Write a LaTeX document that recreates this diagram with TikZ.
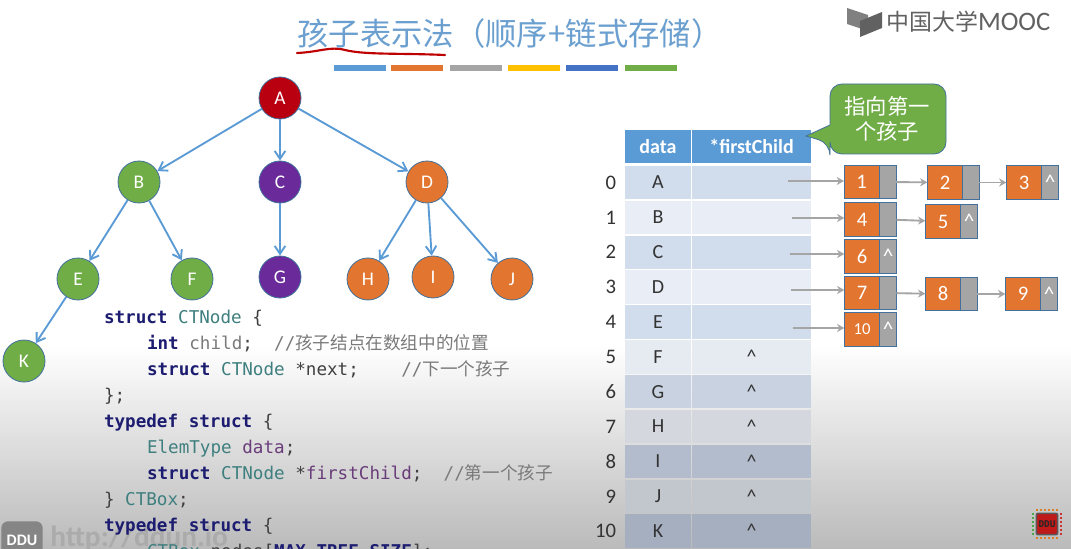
\documentclass[tikz,border=0pt]{standalone}
\usepackage{fontspec}
\setmainfont{Carlito}
\setmonofont{DejaVu Sans Mono}
\newfontfamily\cjk{Noto Sans CJK SC}
\usetikzlibrary{chains,positioning,arrows.meta}
\definecolor{titleBlue}{HTML}{6A9FCF}
\definecolor{lineBlue}{HTML}{5B9BD5}
\definecolor{edgeBlue}{HTML}{41719C}
\definecolor{redFill}{HTML}{B80010}
\definecolor{greenFill}{HTML}{70AD47}
\definecolor{purpleFill}{HTML}{6A2A9A}
\definecolor{orangeFill}{HTML}{E2752F}
\definecolor{grayFill}{HTML}{A5A5A5}
\definecolor{yellowFill}{HTML}{FFC000}
\definecolor{blueFill}{HTML}{4472C4}
\definecolor{kwColor}{HTML}{1C1C70}
\definecolor{tyColor}{HTML}{3F7F7F}
\definecolor{vrColor}{HTML}{6A3D7A}
\definecolor{cmColor}{HTML}{7A7A7A}
\definecolor{rowA}{HTML}{D1DCEC}
\definecolor{rowB}{HTML}{E9EEF6}
\definecolor{rowF}{HTML}{E6EBF2}
\definecolor{rowG}{HTML}{C8D2E1}
\definecolor{rowH}{HTML}{D4D7DD}
\definecolor{rowI}{HTML}{B2BCCC}
\definecolor{rowJ}{HTML}{C2C6CD}
\definecolor{rowK}{HTML}{A5AFC0}
\newcommand{\kw}[1]{\textcolor{kwColor}{\textbf{#1}}}
\newcommand{\ty}[1]{\textcolor{tyColor}{#1}}
\newcommand{\vr}[1]{\textcolor{vrColor}{#1}}
\newcommand{\cm}[1]{\textcolor{cmColor}{//{\cjk #1}}}
\begin{document}
\begin{tikzpicture}[
	x=0.75pt, y=-0.75pt,
	node distance = 1.05pt,
	start chain = going right,
	treenode/.style={circle, draw=edgeBlue, line width=0.6pt, minimum size=31.5pt, inner sep=0pt,
		text=white, font=\fontsize{14.5}{16}\selectfont},
	treeedge/.style={draw=lineBlue, line width=1.4pt, -{Straight Barb[length=6pt, width=8pt]}},
	head/.style={fill=lineBlue, text=white, minimum height=25pt, outer sep=0pt, inner sep=0pt,
		font=\fontsize{15}{17}\selectfont\bfseries},
	datacell/.style={minimum width=49.5pt, minimum height=25.1pt, outer sep=0pt, inner sep=0pt,
		text=black!80, font=\fontsize{15}{17}\selectfont},
	ptrcell/.style={minimum width=89.3pt, minimum height=25.1pt, outer sep=0pt, inner sep=0pt,
		text=black!80, font=\fontsize{15}{17}\selectfont},
	idx/.style={inner sep=0pt, outer sep=0pt, text=black!80, font=\fontsize{15.5}{17}\selectfont},
	key/.style={anchor=west, on chain, fill=orangeFill, draw=edgeBlue, line width=0.6pt, minimum width=26.5pt,
		minimum height=25pt, outer sep=0pt, inner sep=0pt, text=white, font=\fontsize{15.5}{17}\selectfont},
	ptr/.style={node distance=0pt, on chain, fill=grayFill, draw=edgeBlue, line width=0.6pt, minimum width=12.5pt,
		minimum height=25pt, outer sep=0pt, inner sep=0pt, text=white, font=\fontsize{16}{18}\selectfont},
	link/.style={draw=grayFill, line width=1.4pt, -{Stealth[length=5.5pt, width=6pt]}},
	code/.style={anchor=base west, inner sep=0pt, outer sep=0pt, text=black!75,
		font=\ttfamily\fontsize{13.2}{15}\selectfont},
	bar/.style={minimum width=39pt, minimum height=4.8pt, inner sep=0pt, outer sep=0pt},
	]
	\useasboundingbox (0,0) rectangle (1071,549);
	\clip (0,0) rectangle (1071,549);
	\fill[white] (0,0) rectangle (1071,549);
	\shade[top color=white, bottom color=black!27] (0,345) rectangle (1071,549);

	% title
	\node [text=titleBlue, font=\cjk\fontsize{23.5}{26}\selectfont, inner sep=0pt] (title) at (510,34)
		{孩子表示法（顺序+链式存储）};
	\draw [red!75!black, line width=1.6pt, line cap=round] (297,53) .. controls (320,52) and (330,46) .. (345,50)
		.. controls (365,55) and (400,53) .. (445,55);
	\node [bar, fill=lineBlue] (bar1) at (360,68) {};
	\node [bar, fill=orangeFill] (bar2) at (416.5,68) {};
	\node [bar, fill=grayFill] (bar3) at (475.5,68) {};
	\node [bar, fill=yellowFill] (bar4) at (534,68) {};
	\node [bar, fill=blueFill] (bar5) at (591.5,68) {};
	\node [bar, fill=greenFill] (bar6) at (650.5,68) {};

	% logo
	\fill [black!50] (847,8) -- (868,15) -- (868,31) -- (847,24) -- cycle;
	\fill [black!62] (882,12) -- (882,28) -- (860,37) -- (860,21) -- cycle;
	\node [anchor=west, inner sep=0pt, text=black!62, font=\cjk\fontsize{17.2}{19}\selectfont] (mooc) at (886,22)
		{中国大学\fontspec{Carlito}\fontsize{20}{23}\selectfont MOOC};

	% tree
	\node [treenode, fill=redFill] (A) at (280,98) {A};
	\node [treenode, fill=greenFill] (B) at (139,182) {B};
	\node [treenode, fill=purpleFill] (C) at (280,182) {C};
	\node [treenode, fill=orangeFill] (D) at (427,182) {D};
	\node [treenode, fill=greenFill] (E) at (78,279) {E};
	\node [treenode, fill=greenFill] (F) at (192,279) {F};
	\node [treenode, fill=purpleFill] (G) at (280,277) {G};
	\node [treenode, fill=orangeFill] (H) at (368,279) {H};
	\node [treenode, fill=orangeFill] (I) at (433,277) {I};
	\node [treenode, fill=orangeFill] (J) at (512,279) {J};
	\node [treenode, fill=greenFill] (K) at (24,361) {K};
	\draw [treeedge] (A) -- (B);
	\draw [treeedge] (A) -- (C);
	\draw [treeedge] (A) -- (D);
	\draw [treeedge] (B) -- (E);
	\draw [treeedge] (B) -- (F);
	\draw [treeedge] (C) -- (G);
	\draw [treeedge] (D) -- (H);
	\draw [treeedge] (D) -- (I);
	\draw [treeedge] (D) -- (J);
	\draw [treeedge] (E) -- (K);

	% watermarks
	\node [fill=black!48, rounded corners=5pt, minimum width=31pt, minimum height=28pt, inner sep=0pt, text=white,
		font=\fontsize{12}{14}\selectfont\bfseries] (ddu) at (22,540) {DDU};
	\node [anchor=west, inner sep=0pt, text=black!33, font=\fontsize{22}{24}\selectfont\bfseries] (url) at (50,539)
		{http://ddun.io};
	\node [fill=red!72!black!90, draw=black!65, line width=1.2pt, rounded corners=1.5pt, minimum size=16pt, inner sep=0pt,
		text=black!85, font=\ttfamily\fontsize{7}{8}\selectfont\bfseries] (chip) at (1047,524) {DDU};
	\draw [green!50!black!70, line width=2pt, dash pattern=on 1.5pt off 1.5pt] ([xshift=-2pt]chip.north west) -- ([xshift=-2pt]chip.south west);
	\draw [red!60!gray, line width=2pt, dash pattern=on 1.5pt off 1.5pt] ([xshift=2pt]chip.north east) -- ([xshift=2pt]chip.south east);
	\draw [orange!70!gray, line width=2pt, dash pattern=on 1.5pt off 1.5pt] ([yshift=2pt]chip.north west) -- ([yshift=2pt]chip.north east);
	\draw [orange!70!gray, line width=2pt, dash pattern=on 1.5pt off 1.5pt] ([yshift=-2pt]chip.south west) -- ([yshift=-2pt]chip.south east);

	% code
	\node [code] (c1) at (104,323) {\kw{struct} \ty{CTNode} \{};
	\node [code] (c2) at (147,349) {\kw{int} \textcolor{cmColor}{child};~~\cm{孩子结点在数组中的位置}};
	\node [code] (c3) at (147,375) {\kw{struct} \ty{CTNode} *next;~~~~\cm{下一个孩子}};
	\node [code] (c4) at (104,401) {\};};
	\node [code] (c5) at (104,427) {\kw{typedef} \kw{struct} \{};
	\node [code] (c6) at (147,453) {\ty{ElemType} \vr{data};};
	\node [code] (c7) at (147,479) {\kw{struct} \ty{CTNode} *\vr{firstChild};~~\cm{第一个孩子}};
	\node [code] (c8) at (104,505) {\} \ty{CTBox};};
	\node [code] (c9) at (104,531) {\kw{typedef} \kw{struct} \{};
	\node [code] (c10) at (147,557) {\ty{CTBox} nodes[\kw{MAX\_TREE\_SIZE}];};

	% table
	\node [head, minimum width=49.5pt] (hd) at (658,146.5) {data};
	\node [head, minimum width=89.3pt, right=0.75pt of hd] (hf) {*firstChild};

	\node [datacell, fill=rowA] (d0) at (658,182.5) {A};
	\node [ptrcell, fill=rowA, right=0.75pt of d0] (f0) {};
	\node [idx, left=6.75pt of d0] (i0) {0};
	\node [datacell, fill=rowB, below=of d0] (d1) {B};
	\node [ptrcell, fill=rowB, right=0.75pt of d1] (f1) {};
	\node [idx, left=6.75pt of d1] (i1) {1};
	\node [datacell, fill=rowA, below=of d1] (d2) {C};
	\node [ptrcell, fill=rowA, right=0.75pt of d2] (f2) {};
	\node [idx, left=6.75pt of d2] (i2) {2};
	\node [datacell, fill=rowB, below=of d2] (d3) {D};
	\node [ptrcell, fill=rowB, right=0.75pt of d3] (f3) {};
	\node [idx, left=6.75pt of d3] (i3) {3};
	\node [datacell, fill=rowA, below=of d3] (d4) {E};
	\node [ptrcell, fill=rowA, right=0.75pt of d4] (f4) {};
	\node [idx, left=6.75pt of d4] (i4) {4};
	\node [datacell, fill=rowF, below=of d4] (d5) {F};
	\node [ptrcell, fill=rowF, right=0.75pt of d5] (f5) {\textasciicircum};
	\node [idx, left=6.75pt of d5] (i5) {5};
	\node [datacell, fill=rowG, below=of d5] (d6) {G};
	\node [ptrcell, fill=rowG, right=0.75pt of d6] (f6) {\textasciicircum};
	\node [idx, left=6.75pt of d6] (i6) {6};
	\node [datacell, fill=rowH, below=of d6] (d7) {H};
	\node [ptrcell, fill=rowH, right=0.75pt of d7] (f7) {\textasciicircum};
	\node [idx, left=6.75pt of d7] (i7) {7};
	\node [datacell, fill=rowI, below=of d7] (d8) {I};
	\node [ptrcell, fill=rowI, right=0.75pt of d8] (f8) {\textasciicircum};
	\node [idx, left=6.75pt of d8] (i8) {8};
	\node [datacell, fill=rowJ, below=of d8] (d9) {J};
	\node [ptrcell, fill=rowJ, right=0.75pt of d9] (f9) {\textasciicircum};
	\node [idx, left=6.75pt of d9] (i9) {9};
	\node [datacell, fill=rowK, below=of d9] (d10) {K};
	\node [ptrcell, fill=rowK, right=0.75pt of d10] (f10) {\textasciicircum};
	\node [idx, left=6.75pt of d10] (i10) {10};

	% callout
	\draw [fill=greenFill, draw=edgeBlue, line width=0.6pt, rounded corners=9pt]
		(830,125) -- (830,84) -- (946,84) -- (946,154) -- (830,154) -- (830,143)
		[sharp corners] -- (806,136) -- cycle;
	\node [text=white, align=center, inner sep=0pt, font=\cjk\fontsize{16}{19}\selectfont] (tip) at (887,119)
		{指向第一\\个孩子};

	% linked lists
	\node [key] (n1) at (844,182) {1};
	\node [ptr] (p1) {};
	\node [key] (n2) at (926,182.5) {2};
	\node [ptr] (p2) {};
	\node [key] (n3) at (1005,182.5) {3};
	\node [ptr] (p3) {\textasciicircum};
	\node [key] (n4) at (843,219.5) {4};
	\node [ptr] (p4) {};
	\node [key] (n5) at (924,221.5) {5};
	\node [ptr] (p5) {\textasciicircum};
	\node [key] (n6) at (843,256.5) {6};
	\node [ptr] (p6) {\textasciicircum};
	\node [key] (n7) at (843,293) {7};
	\node [ptr] (p7) {};
	\node [key] (n8) at (924,294) {8};
	\node [ptr] (p8) {};
	\node [key] (n9) at (1004,294) {9};
	\node [ptr] (p9) {\textasciicircum};
	\node [key, font=\fontsize{12.5}{14}\selectfont] (n10) at (843,329.5) {10};
	\node [ptr] (p10) {\textasciicircum};
	\coordinate (s0) at (788,181);
	\coordinate (s1) at (792,218);
	\coordinate (s2) at (790,254);
	\coordinate (s3) at (791,290);
	\coordinate (s4) at (793,328);
	\draw [link] (s0) -- (s0 -| n1.west);
	\draw [link] (s1) -- (s1 -| n4.west);
	\draw [link] (s2) -- (s2 -| n6.west);
	\draw [link] (s3) -- (s3 -| n7.west);
	\draw [link] (s4) -- (s4 -| n10.west);
	\draw [link] (p1) -- (n2);
	\draw [link] (p2) -- (n3);
	\draw [link] (p4) -- (n5);
	\draw [link] (p7) -- (n8);
	\draw [link] (p8) -- (n9);
	\end{tikzpicture}
\end{document}
